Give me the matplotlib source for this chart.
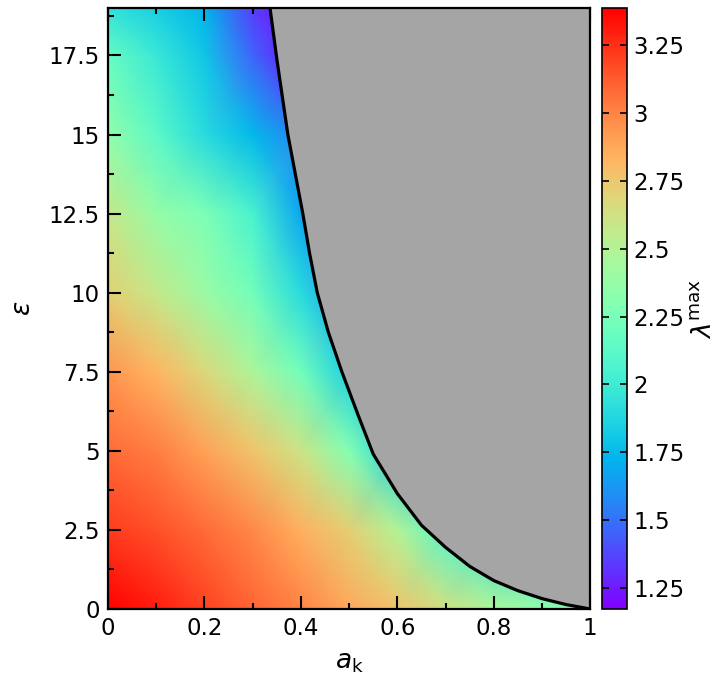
import numpy as np
import matplotlib
matplotlib.use('Agg')
import matplotlib.pyplot as plt
from matplotlib.ticker import MultipleLocator, FuncFormatter

# grid of a_k and epsilon values at which lambda_max was read
a_vals = [0.0, 0.1, 0.2, 0.3, 0.4, 0.5, 0.6, 0.7, 0.8, 0.9, 1.0]
eps_vals = [0.0, 2.5, 5.0, 7.5, 10.0, 12.5, 15.0, 17.5, 19.0]

# lambda_max, one row per epsilon (values beyond the boundary are hidden)
lam_e0 = [3.38, 3.30, 3.20, 3.10, 3.00, 2.87, 2.77, 2.62, 2.47, 2.35, 2.28]
lam_e25 = [3.22, 3.16, 3.08, 2.98, 2.85, 2.72, 2.50, 2.10, 1.90, 1.80, 1.70]
lam_e5 = [3.08, 3.02, 2.90, 2.77, 2.60, 2.30, 1.85, 1.70, 1.60, 1.50, 1.40]
lam_e75 = [2.94, 2.83, 2.67, 2.47, 2.22, 1.85, 1.60, 1.50, 1.40, 1.30, 1.20]
lam_e10 = [2.72, 2.58, 2.40, 2.22, 1.90, 1.60, 1.50, 1.40, 1.30, 1.20, 1.20]
lam_e125 = [2.58, 2.38, 2.27, 2.05, 1.68, 1.40, 1.30, 1.20, 1.20, 1.20, 1.20]
lam_e15 = [2.35, 2.13, 1.90, 1.75, 1.55, 1.30, 1.20, 1.20, 1.20, 1.20, 1.20]
lam_e175 = [2.17, 1.98, 1.80, 1.46, 1.20, 1.20, 1.20, 1.20, 1.20, 1.20, 1.20]
lam_e19 = [1.95, 1.84, 1.73, 1.35, 1.00, 1.00, 1.00, 1.00, 1.00, 1.00, 1.00]

# stability boundary (black line)
bound_eps = [0.0, 0.14, 0.33, 0.58, 0.90, 1.35, 1.95, 2.65, 3.65, 4.90,
             6.20, 7.50, 8.75, 10.0, 11.25, 12.5, 15.0, 17.4, 19.0]
bound_a = [1.0, 0.95, 0.90, 0.85, 0.80, 0.75, 0.70, 0.65, 0.60, 0.55,
           0.517, 0.485, 0.457, 0.434, 0.418, 0.404, 0.373, 0.35, 0.336]

lam = np.array([lam_e0, lam_e25, lam_e5, lam_e75, lam_e10,
                lam_e125, lam_e15, lam_e175, lam_e19])
A, E = np.meshgrid(a_vals, eps_vals)

fig = plt.figure(figsize=(7.25, 6.89), dpi=100)
ax = fig.add_axes([0.149, 0.1161, 0.665, 0.8723])
cax = fig.add_axes([0.830, 0.1161, 0.0345, 0.8723])

mesh = ax.pcolormesh(A, E, lam, shading='gouraud', cmap='rainbow',
                     vmin=1.173, vmax=3.386, rasterized=True)
ax.fill_betweenx(bound_eps, bound_a, 1.0, color='#a5a5a5', lw=0, zorder=2)
ax.plot(bound_a, bound_eps, color='black', lw=2.3, zorder=3)

ax.set_xlim(0, 1)
ax.set_ylim(0, 19)
fmt = FuncFormatter(lambda v, p: '%g' % v)
ax.xaxis.set_major_locator(MultipleLocator(0.2))
ax.xaxis.set_minor_locator(MultipleLocator(0.1))
ax.yaxis.set_major_locator(MultipleLocator(2.5))
ax.yaxis.set_minor_locator(MultipleLocator(1.25))
ax.xaxis.set_major_formatter(fmt)
ax.yaxis.set_major_formatter(fmt)
ax.tick_params(which='both', direction='in', top=True, right=True, width=1.5)
ax.tick_params(which='major', length=9.5, labelsize=16.5, pad=6)
ax.tick_params(which='minor', length=4)
for s in ax.spines.values():
    s.set_linewidth(1.6)
    s.set_zorder(5)

ax.set_xlabel(r'$a_\mathrm{k}$', fontsize=19, labelpad=6)
ax.set_ylabel(r'$\varepsilon$', fontsize=19, labelpad=9)

cb = fig.colorbar(mesh, cax=cax)
cb.set_ticks([1.25, 1.5, 1.75, 2.0, 2.25, 2.5, 2.75, 3.0, 3.25])
cb.ax.yaxis.set_major_formatter(fmt)
cb.ax.tick_params(direction='in', left=True, right=True, length=5, width=1.2,
                  labelsize=16.5, pad=5)
cb.outline.set_linewidth(1.2)
cb.set_label(r'$\lambda^\mathrm{max}$', fontsize=19, labelpad=4)

fig.savefig('out.png', dpi=100)
